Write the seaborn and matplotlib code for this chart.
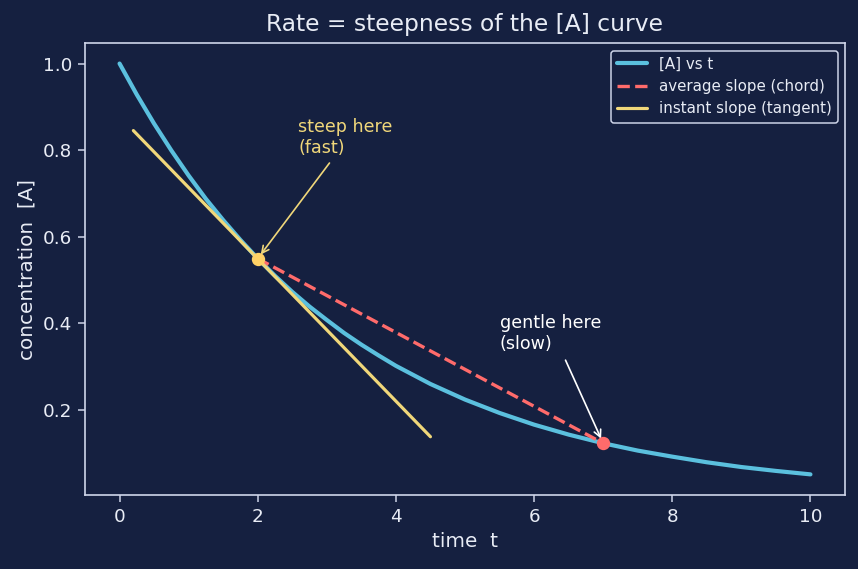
import matplotlib
matplotlib.use("Agg")
import matplotlib.pyplot as plt
import seaborn as sns
import pandas as pd

# ---- data ----
t_vals = [0.0, 0.25, 0.5, 0.75, 1.0, 1.25, 1.5, 1.75, 2.0, 2.25, 2.5, 2.75, 3.0,
          3.25, 3.5, 3.75, 4.0, 4.5, 5.0, 5.5, 6.0, 6.5, 7.0, 7.5, 8.0, 8.5,
          9.0, 9.5, 10.0]
conc_vals = [1.000, 0.928, 0.861, 0.799, 0.741, 0.687, 0.638, 0.592, 0.549, 0.509,
             0.472, 0.438, 0.407, 0.377, 0.350, 0.325, 0.301, 0.259, 0.223, 0.192,
             0.165, 0.142, 0.122, 0.105, 0.091, 0.078, 0.067, 0.058, 0.050]
chord_t = [2.0, 7.0]
chord_c = [0.549, 0.122]
tangent_t = [0.2, 4.5]
tangent_c = [0.845, 0.137]
labels = ["[A] vs t", "average slope (chord)", "instant slope (tangent)"]

BG = "#152040"
FG = "#e8ecf5"
SPINE = "#cfd6ea"
C_CURVE = "#5bc0de"
C_CHORD = "#ff6b6b"
C_TAN = "#f0d77a"
C_DOT = "#ffd166"

sns.set_theme(style="dark")
plt.rcParams["font.family"] = ["DejaVu Sans"]

DPI = 120
fig = plt.figure(figsize=(858 / DPI, 569 / DPI), dpi=DPI, facecolor=BG)
ax = fig.add_axes([85/858, 1-495/569, 760/858, 452/569])
ax.set_facecolor(BG)

df = pd.DataFrame({"t": t_vals, "c": conc_vals})
sns.lineplot(data=df, x="t", y="c", ax=ax, color=C_CURVE, lw=2.5, label=labels[0])
sns.lineplot(x=chord_t, y=chord_c, ax=ax, color=C_CHORD, lw=2.0, ls="--", label=labels[1])
sns.lineplot(x=tangent_t, y=tangent_c, ax=ax, color=C_TAN, lw=1.9, label=labels[2])
ax.plot([chord_t[0]], [chord_c[0]], "o", color=C_DOT, ms=7, zorder=5)
ax.plot([chord_t[1]], [chord_c[1]], "o", color=C_CHORD, ms=7, zorder=5)

ax.set_xlim(-0.5, 10.5)
ax.set_ylim(0.0023, 1.0475)
ax.set_xticks([0, 2, 4, 6, 8, 10])
ax.set_yticks([0.2, 0.4, 0.6, 0.8, 1.0])
ax.tick_params(colors=FG, labelsize=11, length=4, width=0.9, color=SPINE,
               bottom=True, left=True)
for s in ax.spines.values():
    s.set_color(SPINE)
    s.set_linewidth(1.0)
ax.grid(False)

ax.set_xlabel("time  t", color=FG, fontsize=12)
ax.set_ylabel("concentration  [A]", color=FG, fontsize=12)
ax.set_title("Rate = steepness of the [A] curve", color=FG, fontsize=14, pad=7)

ax.annotate("steep here\n(fast)", xy=(2.0, 0.549), xytext=(2.59, 0.785),
            color=C_TAN, fontsize=10.5, ha="left", va="bottom",
            arrowprops=dict(arrowstyle="->", color=C_TAN, lw=1.0, shrinkB=3,
                            relpos=(0.38, 0.0)))
ax.annotate("gentle here\n(slow)", xy=(7.0, 0.122), xytext=(5.5, 0.33),
            color="white", fontsize=10.5, ha="left", va="bottom",
            arrowprops=dict(arrowstyle="->", color="white", lw=1.0, shrinkB=3,
                            relpos=(0.62, 0.0)))

leg = ax.legend(loc="upper right", fontsize=9, facecolor=BG, edgecolor=SPINE,
                framealpha=1, labelcolor=FG)
leg.get_frame().set_linewidth(0.9)

fig.savefig("out.png", dpi=DPI, facecolor=BG)
